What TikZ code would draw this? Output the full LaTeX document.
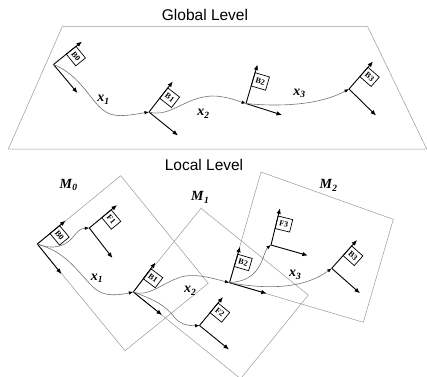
\documentclass[tikz,border=0pt]{standalone}
\usepackage{fontspec}
\setmainfont{Liberation Serif}
\newfontfamily\headfont{Liberation Sans}
\usetikzlibrary{calc,arrows.meta}

% A coordinate frame: origin, pole tip, side-axis tip and a small flag on the pole
\newcommand\frameflag[5]{%
  \coordinate (#1) at #2;
  \coordinate (#1-p) at #3;
  \coordinate (#1-v) at #4;
  \draw[frameaxis] (#1) -- (#1-p);
  \draw[frameaxis] (#1) -- (#1-v);
  \coordinate (#1-a) at ($(#1)!0.45!(#1-p)$);
  \coordinate (#1-b) at ($(#1)!0.79!(#1-p)$);
  \coordinate (#1-c) at ($(#1-b)!15pt!-90:(#1-p)$);
  \coordinate (#1-d) at ($(#1-a)!15pt!-90:(#1-p)$);
  \draw[flagbox] (#1-a) -- (#1-d) -- (#1-c) -- (#1-b) -- cycle;
  \path let \p1 = ($(#1-p)-(#1)$), \n1 = {atan2(\y1,\x1)-90} in
    node[flagtext, rotate=\n1] (#1-t) at ($(#1-a)!0.5!(#1-c)$) {#5};
}
\newcommand\sublbl[2]{\textbf{\textit{#1}}\raisebox{-0.45ex}{\fontsize{9.5}{10}\selectfont\textbf{\textit{#2}}}}

\begin{document}
\begin{tikzpicture}[x=1pt,y=-1pt,
  plane/.style={draw=black!40, line width=0.5pt},
  frameaxis/.style={draw=black, line width=0.9pt, -{Latex[length=5.5pt,width=4.5pt]}},
  flagbox/.style={draw=black, line width=0.7pt},
  flagtext/.style={font=\fontsize{8}{8}\selectfont\bfseries, inner sep=0pt},
  motion/.style={draw=black!55, line width=0.6pt, -{Latex[length=4.5pt,width=3.5pt,color=black]}},
  heading/.style={font=\headfont\fontsize{15.5}{18}\selectfont, inner sep=0pt},
  tag/.style={font=\fontsize{14}{16}\selectfont, inner sep=0pt},
]
\useasboundingbox (0,0) rectangle (427,376);
\clip (0,0) rectangle (427,376);

% headings
\node[heading] (glob) at (205,15) {Global Level};
\node[heading] (loc) at (204,164.5) {Local Level};

% global plane
\draw[plane] (62.3,26.7) -- (367.7,26.7) -- (426.7,149) -- (8.3,149) -- cycle;

% local maps
\draw[plane] (120.7,175.7) -- (37.3,244) -- (125,350.7) -- (208.3,283.3) -- cycle;
\draw[plane] (201,208.3) -- (133.3,292) -- (240.6,378.7) -- (308.3,295) -- cycle;
\draw[plane] (261,172) -- (229.5,282.7) -- (363.3,322.3) -- (393.3,219.3) -- cycle;

% global frames
\frameflag{gB0}{(53.5,64.5)}{(82,41.5)}{(77.5,93)}{B0}
\frameflag{gB1}{(149,112)}{(172.8,81.5)}{(178,135.5)}{B1}
\frameflag{gB2}{(246,103.5)}{(257.5,64.5)}{(282,115)}{B2}
\frameflag{gB3}{(349,89)}{(373,61.5)}{(376,115.5)}{B3}

% global motion
\draw[motion] (gB0) .. controls (80,75) and (90,100) .. (103,110) .. controls (113,118) and (125,116) .. (gB1);
\draw[motion] (gB1) .. controls (170,118) and (185,97) .. (212,96) .. controls (225,96) and (235,100) .. (gB2);
\draw[motion] (gB2) .. controls (280,107) and (320,105) .. (gB3);

\node[tag] (gx1) at (103.3,100) {\sublbl{x}{1}};
\node[tag] (gx2) at (203.3,114) {\sublbl{x}{2}};
\node[tag] (gx3) at (299.3,93.3) {\sublbl{x}{3}};

% local frames
\frameflag{lB0}{(37.3,244)}{(65.5,220.7)}{(61.5,274)}{B0}
\frameflag{lF1}{(89.3,228)}{(117,205)}{(112.5,258)}{F1}
\frameflag{lB1}{(133.3,292)}{(155.5,262.5)}{(162,315)}{B1}
\frameflag{lF2}{(199.5,325.5)}{(223,297)}{(229,349.5)}{F2}
\frameflag{lB2}{(229.5,282.7)}{(240,246.7)}{(266.7,293.5)}{B2}
\frameflag{lF3}{(271,245)}{(280,208.3)}{(307.8,255.5)}{F3}
\frameflag{lB3}{(331.7,268.3)}{(357,240)}{(360,293.3)}{B3}

% local motion
\draw[motion] (lB0) .. controls (52,250) and (65,247) .. (73,237) .. controls (77,232) and (80,228.5) .. (lF1);
\draw[motion] (lB0) .. controls (65,252) and (75,268) .. (90,284) .. controls (100,295) and (110,297) .. (lB1);
\draw[motion] (lB1) .. controls (150,298) and (165,280) .. (185,276) .. controls (200,274) and (215,279) .. (lB2);
\draw[motion] (lB1) .. controls (155,300) and (165,305) .. (175,318) .. controls (180,324) and (188,326) .. (lF2);
\draw[motion] (lB2) .. controls (250,281) and (258,272) .. (263,258) .. controls (265,252) and (267,248) .. (lF3);
\draw[motion] (lB2) .. controls (270,290) and (305,288) .. (lB3);

\node[tag] (lx1) at (96.7,278.3) {\sublbl{x}{1}};
\node[tag] (lx2) at (190,290.7) {\sublbl{x}{2}};
\node[tag] (lx3) at (295,275) {\sublbl{x}{3}};

\node[tag] (m0) at (68.3,185) {\sublbl{M}{0}};
\node[tag] (m1) at (200,197.3) {\sublbl{M}{1}};
\node[tag] (m2) at (328.3,185) {\sublbl{M}{2}};
\end{tikzpicture}
\end{document}
